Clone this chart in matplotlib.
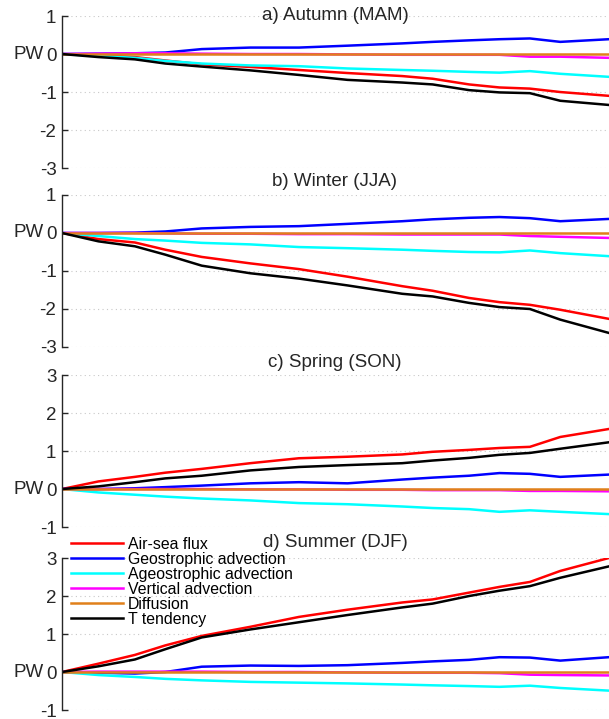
import matplotlib.pyplot as plt

plt.rcParams['font.family'] = ['Liberation Sans', 'DejaVu Sans']
plt.rcParams['axes.unicode_minus'] = False

days = [0, 6, 12, 17, 23, 31, 39, 47, 56, 61, 67, 72, 77, 82, 90]

titles = ["a) Autumn (MAM)", "b) Winter (JJA)", "c) Spring (SON)", "d) Summer (DJF)"]
labels = ["Air-sea flux", "Geostrophic advection", "Ageostrophic advection",
          "Vertical advection", "Diffusion", "T tendency"]
colors = ["#ff0000", "#0000ff", "#00ffff", "#ff00ff", "#e0801a", "#000000"]

# MAM
air_a = [0, -0.03, -0.08, -0.17, -0.27, -0.34, -0.42, -0.5, -0.58, -0.65, -0.8, -0.88, -0.91, -1.0, -1.1]
geo_a = [0, 0.01, 0.02, 0.04, 0.13, 0.17, 0.17, 0.22, 0.28, 0.32, 0.36, 0.39, 0.41, 0.32, 0.39]
ageo_a = [0, -0.05, -0.1, -0.18, -0.25, -0.3, -0.32, -0.38, -0.42, -0.44, -0.47, -0.49, -0.45, -0.52, -0.6]
vert_a = [0, 0.01, 0.02, 0.02, 0.01, 0, 0, -0.01, -0.02, -0.02, -0.02, -0.02, -0.07, -0.07, -0.1]
diff_a = [0, 0, 0, 0, 0, 0, 0, 0, 0, 0, 0, 0, 0, 0, 0]
tend_a = [0, -0.08, -0.14, -0.25, -0.33, -0.43, -0.55, -0.68, -0.75, -0.8, -0.95, -1.01, -1.03, -1.23, -1.34]

# JJA
air_b = [0, -0.16, -0.25, -0.44, -0.63, -0.8, -0.95, -1.15, -1.4, -1.52, -1.71, -1.82, -1.89, -2.02, -2.26]
geo_b = [0, 0, 0.01, 0.04, 0.12, 0.16, 0.18, 0.24, 0.31, 0.36, 0.4, 0.42, 0.39, 0.31, 0.37]
ageo_b = [0, -0.08, -0.16, -0.2, -0.26, -0.3, -0.37, -0.4, -0.44, -0.47, -0.5, -0.51, -0.46, -0.53, -0.61]
vert_b = [0, 0, 0, -0.01, -0.02, -0.02, -0.03, -0.03, -0.04, -0.04, -0.04, -0.04, -0.08, -0.1, -0.13]
diff_b = [0, 0, 0, 0, 0, 0, 0, 0, 0, 0, 0, 0, 0, 0, 0]
tend_b = [0, -0.22, -0.35, -0.57, -0.86, -1.06, -1.2, -1.38, -1.6, -1.67, -1.84, -1.95, -2.0, -2.28, -2.63]

# SON
air_c = [0, 0.2, 0.32, 0.43, 0.53, 0.68, 0.81, 0.85, 0.91, 0.98, 1.03, 1.08, 1.11, 1.37, 1.58]
geo_c = [0, 0.0, 0.02, 0.05, 0.09, 0.15, 0.18, 0.15, 0.25, 0.3, 0.35, 0.42, 0.4, 0.32, 0.38]
ageo_c = [0, -0.09, -0.15, -0.2, -0.25, -0.3, -0.37, -0.4, -0.46, -0.5, -0.53, -0.6, -0.56, -0.6, -0.66]
vert_c = [0, 0, 0, 0, 0, -0.01, -0.01, -0.02, -0.02, -0.03, -0.03, -0.03, -0.05, -0.05, -0.06]
diff_c = [0, 0, 0, 0, 0, 0, 0, 0, 0, 0, 0, 0, 0, 0, 0]
tend_c = [0, 0.07, 0.18, 0.28, 0.35, 0.49, 0.58, 0.63, 0.68, 0.75, 0.82, 0.9, 0.95, 1.06, 1.23]

# DJF
air_d = [0, 0.22, 0.45, 0.7, 0.95, 1.19, 1.45, 1.64, 1.83, 1.91, 2.09, 2.24, 2.37, 2.66, 3.0]
geo_d = [0, -0.02, -0.04, 0.0, 0.14, 0.17, 0.16, 0.18, 0.24, 0.28, 0.32, 0.39, 0.38, 0.3, 0.39]
ageo_d = [0, -0.08, -0.13, -0.18, -0.22, -0.26, -0.28, -0.3, -0.33, -0.35, -0.37, -0.39, -0.36, -0.42, -0.49]
vert_d = [0, 0.01, 0.01, 0.01, 0.01, 0.0, 0, -0.01, -0.02, -0.02, -0.02, -0.03, -0.07, -0.08, -0.09]
diff_d = [0, 0, 0, 0, 0, 0, 0, 0, 0, 0, 0, 0, 0, 0, 0]
tend_d = [0, 0.15, 0.33, 0.6, 0.91, 1.12, 1.31, 1.5, 1.7, 1.8, 2.0, 2.14, 2.26, 2.48, 2.78]

panels = [
    [air_a, geo_a, ageo_a, vert_a, diff_a, tend_a],
    [air_b, geo_b, ageo_b, vert_b, diff_b, tend_b],
    [air_c, geo_c, ageo_c, vert_c, diff_c, tend_c],
    [air_d, geo_d, ageo_d, vert_d, diff_d, tend_d],
]
ylims = [(-3, 1), (-3, 1), (-1, 3), (-1, 3)]
bottoms = [0.7663, 0.5174, 0.267, 0.0125]
title_y = [0.978, 0.747, 0.4965, 0.246]

fig = plt.figure(figsize=(6.09, 7.19), dpi=100)

for i in range(4):
    ax = fig.add_axes([0.1018, bottoms[i], 0.898, 0.2114])
    for s, c, lab in zip(panels[i], colors, labels):
        ax.plot(days, s, color=c, lw=1.8, label=lab)
    ax.set_xlim(0, 90)
    ax.set_ylim(*ylims[i])
    ax.set_yticks(range(ylims[i][0], ylims[i][1] + 1))
    ax.set_xticks([])
    for sp in ["top", "right", "bottom"]:
        ax.spines[sp].set_visible(False)
    ax.spines["left"].set_color("#262626")
    ax.spines["left"].set_linewidth(1.0)
    ax.tick_params(axis="y", direction="in", length=4.5, width=1.0,
                   colors="#262626", labelsize=13.5, pad=4)
    ax.yaxis.grid(True, linestyle=(0, (1, 3)), color="#c8c8c8", lw=0.8)
    ax.set_axisbelow(True)
    ax.patch.set_alpha(0)
    ax.text(-0.034, 0, "PW", transform=ax.get_yaxis_transform(), ha="right",
            va="center", fontsize=13.5, color="#262626")
    fig.text(0.55, title_y[i], titles[i], ha="center", va="center",
             fontsize=13.5, color="#262626")
    if i == 3:
        ax.legend(loc="upper left", bbox_to_anchor=(0.004, 1.18), frameon=False,
                  fontsize=11.4, handlelength=3.3, handletextpad=0.3,
                  labelspacing=0.0, borderaxespad=0)

fig.savefig("out.png", dpi=100)
